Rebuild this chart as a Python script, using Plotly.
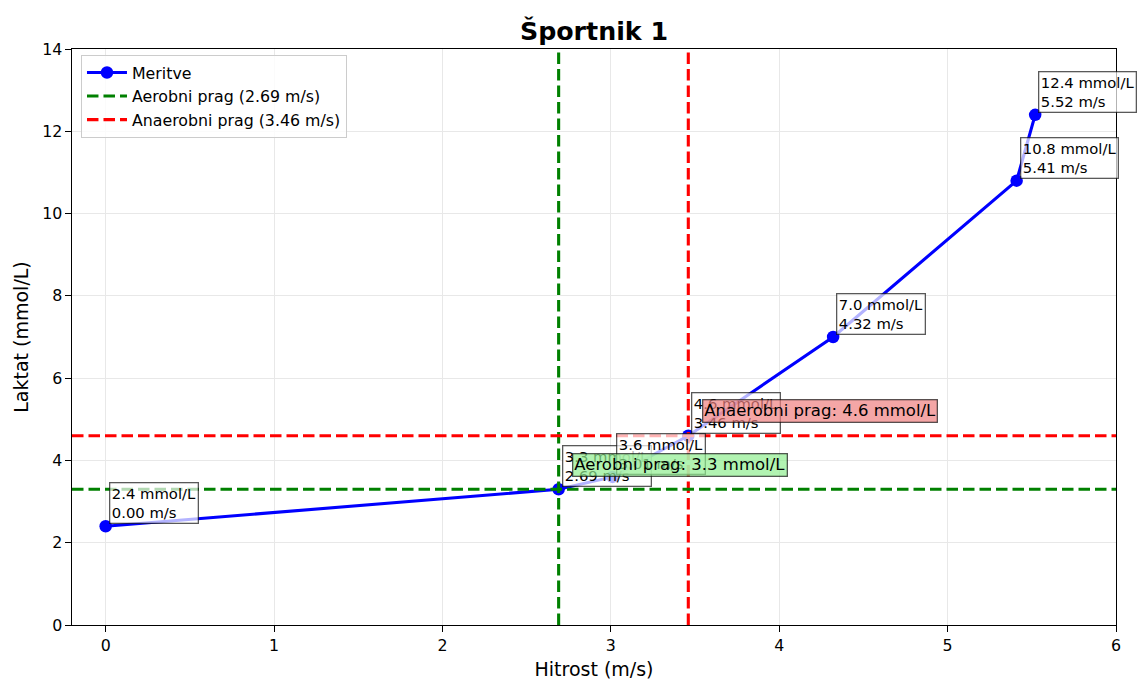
import plotly.graph_objects as go

# Data
speed = [0.00, 2.69, 3.01, 3.46, 4.32, 5.41, 5.52]
lactate = [2.4, 3.3, 3.6, 4.6, 7.0, 10.8, 12.4]
aer_speed, aer_lact = 2.69, 3.3
anaer_speed, anaer_lact = 3.46, 4.6
x_ticks = [0, 1, 2, 3, 4, 5, 6]
y_ticks = [0, 2, 4, 6, 8, 10, 12, 14]
x_lim = [-0.2, 6]
y_lim = [0, 14]

FONT = "DejaVu Sans"
FS = 16.5
LW = 3.1
fig = go.Figure()

fig.add_trace(go.Scatter(
    x=speed, y=lactate, mode="lines+markers", name="Meritve",
    line=dict(color="#0000ff", width=LW),
    marker=dict(color="#0000ff", size=12.5),
    legendgroup="a",
))

dash = "11.5px,5px"
fig.add_trace(go.Scatter(
    x=[aer_speed, aer_speed], y=y_lim, mode="lines",
    name=f"Aerobni prag ({aer_speed:.2f} m/s)",
    line=dict(color="#008000", width=LW, dash=dash), legendgroup="b",
))
fig.add_trace(go.Scatter(
    x=[anaer_speed, anaer_speed], y=y_lim, mode="lines",
    name=f"Anaerobni prag ({anaer_speed:.2f} m/s)",
    line=dict(color="#ff0000", width=LW, dash=dash), legendgroup="c",
))
fig.add_trace(go.Scatter(
    x=x_lim, y=[aer_lact, aer_lact], mode="lines", showlegend=False,
    line=dict(color="#008000", width=LW, dash=dash), legendgroup="b",
))
fig.add_trace(go.Scatter(
    x=x_lim, y=[anaer_lact, anaer_lact], mode="lines", showlegend=False,
    line=dict(color="#ff0000", width=LW, dash=dash), legendgroup="c",
))

annotations = []
for s, l in zip(speed, lactate):
    annotations.append(dict(
        x=s, y=l, xref="x", yref="y",
        text=f"{l:.1f} mmol/L<br>{s:.2f} m/s", align="left",
        showarrow=False, xanchor="left", yanchor="bottom",
        xshift=3, yshift=2,
        font=dict(family=FONT, size=14.8, color="black"),
        bgcolor="rgba(255,255,255,0.7)", bordercolor="rgba(0,0,0,0.65)",
        borderwidth=1.3, borderpad=1.5,
    ))

annotations.append(dict(
    x=aer_speed + 0.1, y=aer_lact + 0.6, xref="x", yref="y",
    text=f"Aerobni prag: {aer_lact:.1f} mmol/L",
    showarrow=False, xanchor="left", yanchor="middle", xshift=-3,
    font=dict(family=FONT, size=FS, color="black"),
    bgcolor="rgba(144,238,144,0.7)", bordercolor="rgba(0,0,0,0.65)",
    borderwidth=1.3, borderpad=1,
))
annotations.append(dict(
    x=anaer_speed + 0.1, y=anaer_lact + 0.6, xref="x", yref="y",
    text=f"Anaerobni prag: {anaer_lact:.1f} mmol/L",
    showarrow=False, xanchor="left", yanchor="middle", xshift=-3,
    font=dict(family=FONT, size=FS, color="black"),
    bgcolor="rgba(240,128,128,0.7)", bordercolor="rgba(0,0,0,0.65)",
    borderwidth=1.3, borderpad=1,
))

axis_common = dict(
    showline=True, linecolor="black", linewidth=1.2, mirror=True,
    ticks="outside", ticklen=5.5, tickwidth=1.2, tickcolor="black",
    showgrid=True, gridcolor="#e8e8e8", gridwidth=1.2, zeroline=False,
    tickfont=dict(family=FONT, size=15.8, color="black"),
    automargin=False,
)

fig.update_layout(
    width=1137, height=680,
    margin=dict(l=72, r=21, t=49, b=55),
    paper_bgcolor="white", plot_bgcolor="white",
    title=dict(text="<b>Športnik 1</b>", x=0.5, xref="paper",
               y=1 - 31 / 680, yref="container", yanchor="middle",
               font=dict(family=FONT, size=25.3, color="black")),
    xaxis=dict(range=x_lim, tickvals=x_ticks, **axis_common,
               title=dict(text="Hitrost (m/s)", standoff=9,
                          font=dict(family=FONT, size=19, color="black"))),
    yaxis=dict(range=y_lim, tickvals=y_ticks, **axis_common,
               title=dict(text="Laktat (mmol/L)", standoff=8,
                          font=dict(family=FONT, size=19, color="black"))),
    legend=dict(x=0.0086, y=0.99, xanchor="left", yanchor="top",
                bgcolor="rgba(255,255,255,0.8)", bordercolor="#cccccc",
                borderwidth=1, itemwidth=40, tracegroupgap=0,
                traceorder="grouped",
                font=dict(family=FONT, size=15.8, color="black")),
    annotations=annotations,
    showlegend=True,
)

fig.write_html("out.html")
